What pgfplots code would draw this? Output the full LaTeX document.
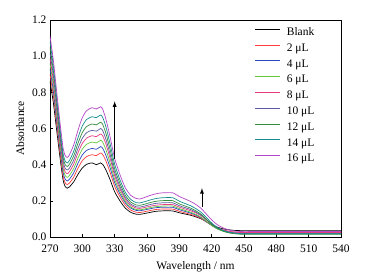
\documentclass[border=0pt]{standalone}
\usepackage{pgfplots}
\pgfplotsset{compat=1.18}
\usepackage{fontspec}
\setmainfont{Liberation Serif}
\definecolor{cRed}{RGB}{255,60,60}
\definecolor{cBlue}{RGB}{40,70,190}
\definecolor{cLgreen}{RGB}{100,200,60}
\definecolor{cPink}{RGB}{230,60,130}
\definecolor{cSlate}{RGB}{90,90,160}
\definecolor{cGreen}{RGB}{50,140,60}
\definecolor{cTeal}{RGB}{20,140,140}
\definecolor{cPurple}{RGB}{180,70,200}
\begin{document}
\begin{tikzpicture}[font=\fontsize{11.5bp}{13bp}\selectfont]
\begin{axis}[
  at={(0,0)}, anchor=south west,
  scale only axis, width=291bp, height=217bp,
  xmin=270, xmax=540, ymin=0, ymax=1.2,
  xtick={270,300,...,540}, ytick={0,0.2,...,1.2},
  yticklabel style={/pgf/number format/fixed,/pgf/number format/fixed zerofill,/pgf/number format/precision=1},
  xticklabel style={yshift=-4bp},
  /pgf/number format/assume math mode=true,
  tick align=inside, tick pos=left, major tick length=3bp,
  axis line style={line width=0.8bp}, tick style={line width=0.6bp, black},
  xlabel={Wavelength / nm}, ylabel={Absorbance},
  xlabel style={yshift=-2bp}, ylabel style={yshift=1bp},
  legend cell align=left,
  legend image code/.code={\draw[#1, line width=0.9bp] (0bp,3.5bp) -- (25bp,3.5bp);},
  legend style={at={(axis cs:460,1.16)}, anchor=north west, draw=none, fill=none, inner sep=0pt,
    row sep=5.3bp, font=\fontsize{11.5bp}{13bp}\selectfont,
    nodes={inner sep=0pt, text height=8bp, text depth=2.5bp},
    /tikz/every odd column/.append style={column sep=6bp}},
  every axis plot/.append style={line width=0.7bp, smooth, tension=0.4},
]
\addplot[black] coordinates {(270,0.860)(273,0.748)(276,0.600)(279,0.453)(282,0.320)(284,0.280)(286,0.270)(288,0.277)(292,0.305)(296,0.347)(300,0.382)(304,0.402)(309,0.410)(313,0.400)(317,0.410)(319,0.401)(322,0.370)(326,0.313)(330,0.250)(335,0.199)(340,0.159)(345,0.136)(350,0.126)(353,0.125)(357,0.129)(362,0.135)(367,0.141)(372,0.144)(378,0.145)(384,0.144)(390,0.134)(400,0.121)(405,0.112)(410,0.101)(415,0.085)(420,0.068)(425,0.055)(430,0.046)(435,0.041)(440,0.037)(448,0.035)(460,0.035)(500,0.035)(540,0.035)};
\addlegendentry{Blank}
\addplot[cRed] coordinates {(270,0.900)(273,0.784)(276,0.632)(279,0.479)(282,0.342)(284,0.300)(286,0.290)(288,0.298)(292,0.331)(296,0.381)(300,0.422)(304,0.445)(309,0.455)(313,0.450)(317,0.465)(319,0.455)(322,0.419)(326,0.353)(330,0.280)(335,0.221)(340,0.175)(345,0.148)(350,0.137)(353,0.135)(357,0.139)(362,0.145)(367,0.151)(372,0.154)(378,0.155)(384,0.154)(390,0.142)(400,0.126)(405,0.116)(410,0.103)(415,0.084)(420,0.064)(425,0.048)(430,0.038)(435,0.032)(440,0.028)(448,0.025)(460,0.025)(500,0.025)(540,0.025)};
\addlegendentry{2 μL}
\addplot[cBlue] coordinates {(270,0.930)(273,0.812)(276,0.657)(279,0.502)(282,0.363)(284,0.321)(286,0.310)(288,0.319)(292,0.355)(296,0.409)(300,0.454)(304,0.479)(309,0.490)(313,0.485)(317,0.500)(319,0.489)(322,0.450)(326,0.379)(330,0.301)(335,0.237)(340,0.188)(345,0.159)(350,0.147)(353,0.145)(357,0.149)(362,0.155)(367,0.161)(372,0.164)(378,0.165)(384,0.164)(390,0.151)(400,0.133)(405,0.122)(410,0.107)(415,0.085)(420,0.064)(425,0.046)(430,0.035)(435,0.027)(440,0.023)(448,0.020)(460,0.020)(500,0.020)(540,0.020)};
\addlegendentry{4 μL}
\addplot[cLgreen] coordinates {(270,0.960)(273,0.840)(276,0.683)(279,0.525)(282,0.384)(284,0.341)(286,0.330)(288,0.340)(292,0.379)(296,0.437)(300,0.486)(304,0.513)(309,0.525)(313,0.520)(317,0.535)(319,0.523)(322,0.481)(326,0.404)(330,0.319)(335,0.250)(340,0.196)(345,0.165)(350,0.152)(353,0.150)(357,0.154)(362,0.161)(367,0.167)(372,0.170)(378,0.172)(384,0.171)(390,0.157)(400,0.138)(405,0.126)(410,0.110)(415,0.087)(420,0.064)(425,0.046)(430,0.033)(435,0.026)(440,0.021)(448,0.018)(460,0.018)(500,0.018)(540,0.018)};
\addlegendentry{6 μL}
\addplot[cPink] coordinates {(270,0.990)(273,0.868)(276,0.708)(279,0.548)(282,0.404)(284,0.361)(286,0.350)(288,0.361)(292,0.403)(296,0.466)(300,0.518)(304,0.547)(309,0.560)(313,0.555)(317,0.570)(319,0.558)(322,0.512)(326,0.430)(330,0.339)(335,0.265)(340,0.207)(345,0.174)(350,0.160)(353,0.158)(357,0.162)(362,0.169)(367,0.175)(372,0.178)(378,0.180)(384,0.179)(390,0.165)(400,0.146)(405,0.134)(410,0.118)(415,0.095)(420,0.072)(425,0.053)(430,0.041)(435,0.033)(440,0.028)(448,0.025)(460,0.025)(500,0.025)(540,0.025)};
\addlegendentry{8 μL}
\addplot[cSlate] coordinates {(270,1.020)(273,0.897)(276,0.734)(279,0.572)(282,0.425)(284,0.381)(286,0.370)(288,0.381)(292,0.425)(296,0.491)(300,0.546)(304,0.577)(309,0.590)(313,0.585)(317,0.600)(319,0.587)(322,0.539)(326,0.452)(330,0.356)(335,0.278)(340,0.217)(345,0.182)(350,0.167)(353,0.165)(357,0.170)(362,0.178)(367,0.185)(372,0.188)(378,0.190)(384,0.189)(390,0.173)(400,0.153)(405,0.139)(410,0.122)(415,0.097)(420,0.071)(425,0.051)(430,0.037)(435,0.029)(440,0.023)(448,0.020)(460,0.020)(500,0.020)(540,0.020)};
\addlegendentry{10 μL}
\addplot[cGreen] coordinates {(270,1.050)(273,0.925)(276,0.760)(279,0.595)(282,0.446)(284,0.401)(286,0.390)(288,0.402)(292,0.449)(296,0.519)(300,0.578)(304,0.611)(309,0.625)(313,0.620)(317,0.635)(319,0.621)(322,0.571)(326,0.479)(330,0.377)(335,0.295)(340,0.230)(345,0.193)(350,0.177)(353,0.175)(357,0.180)(362,0.189)(367,0.196)(372,0.200)(378,0.202)(384,0.201)(390,0.183)(400,0.161)(405,0.146)(410,0.127)(415,0.099)(420,0.071)(425,0.049)(430,0.034)(435,0.024)(440,0.019)(448,0.015)(460,0.015)(500,0.015)(540,0.015)};
\addlegendentry{12 μL}
\addplot[cTeal] coordinates {(270,1.080)(273,0.953)(276,0.785)(279,0.618)(282,0.467)(284,0.421)(286,0.410)(288,0.423)(292,0.474)(296,0.550)(300,0.614)(304,0.650)(309,0.665)(313,0.660)(317,0.675)(319,0.660)(322,0.607)(326,0.509)(330,0.402)(335,0.315)(340,0.246)(345,0.207)(350,0.190)(353,0.188)(357,0.194)(362,0.203)(367,0.211)(372,0.216)(378,0.218)(384,0.217)(390,0.198)(400,0.174)(405,0.158)(410,0.138)(415,0.108)(420,0.078)(425,0.054)(430,0.038)(435,0.028)(440,0.022)(448,0.018)(460,0.018)(500,0.018)(540,0.018)};
\addlegendentry{14 μL}
\addplot[cPurple] coordinates {(270,1.110)(273,0.983)(276,0.815)(279,0.648)(282,0.497)(284,0.451)(286,0.440)(288,0.454)(292,0.509)(296,0.591)(300,0.660)(304,0.699)(309,0.715)(313,0.708)(317,0.720)(319,0.705)(322,0.649)(326,0.547)(330,0.434)(335,0.343)(340,0.271)(345,0.230)(350,0.213)(353,0.210)(357,0.217)(362,0.228)(367,0.237)(372,0.243)(378,0.245)(384,0.244)(390,0.224)(400,0.198)(405,0.181)(410,0.159)(415,0.127)(420,0.095)(425,0.069)(430,0.052)(435,0.041)(440,0.034)(448,0.030)(460,0.030)(500,0.030)(540,0.030)};
\addlegendentry{16 μL}
\draw[-latex, line width=0.9bp] (axis cs:330,0.43) -- (axis cs:330,0.75);
\draw[-latex, line width=0.9bp] (axis cs:411,0.165) -- (axis cs:411,0.27);
\end{axis}
\path (-50bp,-43bp) rectangle (315bp,237bp);
\end{tikzpicture}
\end{document}
